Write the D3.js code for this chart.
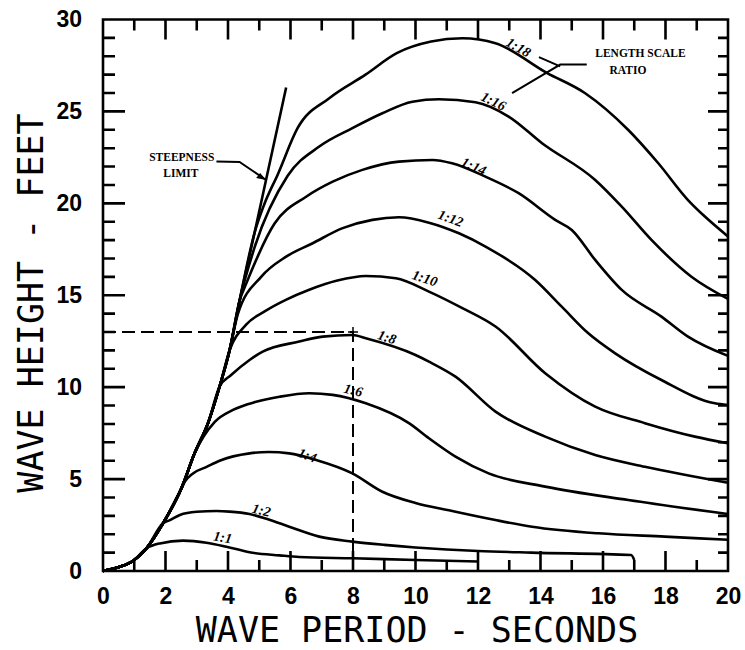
<!DOCTYPE html>
<html>
<head>
<meta charset="utf-8">
<script src="https://cdn.jsdelivr.net/npm/d3@7"></script>
<style>
  body { margin: 0; background: #fff; }
  svg { display: block; }
</style>
</head>
<body>
<div class="chart"></div>
<script>
(function(){

  // shared lower envelope / steepness limit line (period s, height ft)
  var limitT = [0, 0.54, 0.97, 1.39, 1.92, 2.51, 2.93, 3.36, 3.73, 4.05, 4.37, 4.85, 5.22, 5.86];
  var limitH = [0, 0.23, 0.56, 1.23, 2.59, 4.5, 6.4, 8.04, 10.03, 12.0, 14.7, 18.4, 21.3, 26.3];

  var ratios = ['1:1', '1:2', '1:4', '1:6', '1:8', '1:10', '1:12', '1:14', '1:16', '1:18'];

  // index of the limit point where each curve leaves the envelope
  var branchAt = [3, 4, 5, 6, 8, 9, 9, 10, 10, 11];

  var curveT = [
    [1.82, 2.56, 3.31, 3.95, 4.69, 5.65, 6.28, 8, 10, 12],
    [2.14, 2.46, 3.0, 3.63, 4.05, 4.69, 5.3, 5.96, 6.92, 7.98, 9, 10, 11, 12, 13.7, 16.9, 17.0],
    [2.62, 2.88, 3.3, 3.73, 4.69, 5.3, 5.96, 6.82, 7.98, 8.94, 10, 11.07, 12.56, 13.73, 15.85, 17.98, 20],
    [3.57, 4.16, 4.9, 5.65, 6.6, 7.35, 8.41, 9.79, 10.43, 11.28, 12.34, 14.15, 16.81, 20],
    [4.1, 4.69, 5.11, 6.28, 7.03, 7.98, 8.41, 10, 10.43, 11.28, 12.56, 14.15, 15.75, 17.34, 20],
    [4.58, 5.2, 5.85, 6.6, 7.5, 8.41, 9.37, 10.43, 11.5, 12.56, 14.15, 15.75, 17.34, 18.94, 20],
    [4.32, 5.06, 5.86, 6.71, 7.67, 8.62, 9.47, 10.43, 11.39, 12.24, 13.83, 14.68, 15.53, 16.39, 17.87, 19.58, 20],
    [4.6, 5.49, 6.5, 7.35, 8.3, 9.47, 10.54, 11.17, 12.24, 13.3, 14.47, 15.0, 15.75, 16.6, 17.87, 18.72, 20],
    [4.85, 5.91, 6.92, 7.98, 8.94, 9.9, 10.75, 11.92, 12.98, 14.05, 15.75, 16.6, 17.55, 18.83, 20],
    [5.15, 5.6, 6.23, 7.24, 8.4, 9.4, 10.5, 11.5, 12.56, 14.2, 15.43, 16.81, 17.77, 18.72, 19.26, 20]
  ];
  var curveH = [
    [1.5, 1.65, 1.54, 1.32, 1.02, 0.85, 0.76, 0.69, 0.6, 0.52],
    [2.77, 3.05, 3.22, 3.26, 3.23, 3.1, 2.8, 2.41, 1.87, 1.6, 1.42, 1.28, 1.17, 1.09, 1.0, 0.87, 0.6],
    [4.86, 5.31, 5.65, 6.0, 6.4, 6.47, 6.4, 6.04, 5.31, 4.31, 3.7, 3.3, 2.77, 2.41, 2.05, 1.87, 1.7],
    [8.1, 8.76, 9.2, 9.48, 9.67, 9.58, 9.12, 8.04, 7.22, 6.22, 5.31, 4.59, 3.86, 3.1],
    [10.66, 11.48, 11.93, 12.48, 12.75, 12.84, 12.66, 11.75, 11.39, 10.57, 8.67, 7.31, 6.31, 5.67, 4.8],
    [13.4, 14.15, 14.75, 15.3, 15.8, 16.05, 15.92, 15.2, 14.3, 13.3, 10.76, 8.94, 8.04, 7.31, 6.95],
    [14.0, 16.0, 17.1, 17.83, 18.65, 19.1, 19.24, 18.95, 18.37, 17.65, 15.83, 14.38, 12.93, 11.84, 10.39, 9.12, 9.03],
    [15.7, 18.9, 20.36, 21.18, 21.82, 22.27, 22.36, 22.18, 21.45, 20.55, 19.1, 18.55, 16.92, 15.29, 13.84, 12.75, 11.7],
    [17.6, 21.5, 23.09, 24.09, 24.9, 25.53, 25.66, 25.5, 24.72, 23.27, 21.27, 19.82, 18.01, 16.01, 14.8],
    [19.9, 21.6, 24.1, 25.72, 27.0, 28.17, 28.8, 28.98, 28.71, 27.1, 25.99, 23.99, 22.18, 20.18, 19.28, 18.2]
  ];

  // where each ratio label sits, and its tilt in degrees
  var labelT = [3.83, 5.07, 6.54, 8.01, 9.09, 10.3, 11.13, 11.87, 12.5, 13.3];
  var labelH = [1.85, 3.32, 6.31, 9.85, 12.73, 15.94, 19.2, 22.03, 25.57, 28.5];
  var labelAngle = [10, 14, 20, 14, 18, 18, 20, 24, 26, 30];

  // example reading: 8 s period, 13 ft wave
  var readT = [0, 8, 8];
  var readH = [13, 13, 0];

  var xTicks = d3.range(0, 21, 2);
  var yTicks = d3.range(0, 31, 5);
  var xMarks = d3.range(1, 20);
  var yMarks = d3.range(1, 30);

  var width = 745, height = 650;
  var svg = d3.select('.chart').append('svg')
    .attr('width', width)
    .attr('height', height);

  var x = d3.scaleLinear().domain([0, 20]).range([103, 728]);
  var y = d3.scaleLinear().domain([0, 30]).range([571, 19.5]);

  var line = d3.line()
    .x(function(d){ return x(d[0]); })
    .y(function(d){ return y(d[1]); })
    .curve(d3.curveMonotoneX);

  var straight = d3.line()
    .x(function(d){ return x(d[0]); })
    .y(function(d){ return y(d[1]); });

  var limitPts = limitT.map(function(t, i){ return [t, limitH[i]]; });

  var series = ratios.map(function(r, i){
    var pts = limitPts.slice(0, branchAt[i] + 1);
    curveT[i].forEach(function(t, j){ pts.push([t, curveH[i][j]]); });
    return pts;
  });

  // frame with inward marks, one path
  var lenX = function(v){ return v % 2 === 0 ? 20 : 11; };
  var lenY = function(v){ return v % 5 === 0 ? 22 : 12; };
  var framePts = [[0, 0], [20, 0], [20, 30], [0, 30], [0, 0]];
  var frameD = straight(framePts) + 'Z';
  xMarks.forEach(function(v){
    frameD += 'M' + x(v) + ',' + y(0) + 'L' + x(v) + ',' + (y(0) - lenX(v));
    frameD += 'M' + x(v) + ',' + y(30) + 'L' + x(v) + ',' + (y(30) + lenX(v));
  });
  yMarks.forEach(function(v){
    frameD += 'M' + x(0) + ',' + y(v) + 'L' + (x(0) + lenY(v)) + ',' + y(v);
    frameD += 'M' + x(20) + ',' + y(v) + 'L' + (x(20) - lenY(v) + 2) + ',' + y(v);
  });

  svg.append('path')
    .attr('d', frameD)
    .attr('fill', 'none')
    .attr('stroke', '#000')
    .attr('stroke-width', 2.6);

  // dashed example reading
  svg.append('path')
    .attr('d', straight(readT.map(function(t, i){ return [t, readH[i]]; })))
    .attr('fill', 'none')
    .attr('stroke', '#000')
    .attr('stroke-width', 2)
    .attr('stroke-dasharray', '13,6');

  svg.append('path')
    .attr('d', 'M' + (x(8) - 5) + ',' + y(13) + 'h10M' + x(8) + ',' + (y(13) - 5) + 'v10')
    .attr('stroke', '#000')
    .attr('stroke-width', 1.5);

  // curves
  svg.selectAll('path.ratio')
    .data(series)
    .enter().append('path')
    .attr('class', 'ratio')
    .attr('d', line)
    .attr('fill', 'none')
    .attr('stroke', '#000')
    .attr('stroke-width', 2.6)
    .attr('stroke-linejoin', 'round');

  svg.append('path')
    .attr('d', line(limitPts))
    .attr('fill', 'none')
    .attr('stroke', '#000')
    .attr('stroke-width', 2.6);

  svg.selectAll('text.ratio')
    .data(ratios)
    .enter().append('text')
    .attr('class', 'ratio')
    .attr('transform', function(d, i){
      return 'translate(' + x(labelT[i]) + ',' + y(labelH[i]) + ') rotate(' + labelAngle[i] + ')';
    })
    .attr('text-anchor', 'middle')
    .attr('dy', '0.35em')
    .attr('font-family', 'Liberation Serif')
    .attr('font-weight', 'bold')
    .attr('font-style', 'italic')
    .attr('font-size', 14)
    .text(function(d){ return d; });

  // annotations
  var note = function(t, h, str){
    svg.append('text')
      .attr('x', x(t))
      .attr('y', y(h))
      .attr('dy', '0.35em')
      .attr('text-anchor', 'middle')
      .attr('font-family', 'Liberation Serif')
      .attr('font-weight', 'bold')
      .attr('font-size', 11.5)
      .text(str);
  };
  note(2.52, 22.5, 'STEEPNESS');
  note(2.49, 21.65, 'LIMIT');
  note(17.2, 28.2, 'LENGTH SCALE');
  note(16.8, 27.25, 'RATIO');

  svg.append('path')
    .attr('d', straight([[3.63, 22.27], [4.37, 22.25], [5.22, 21.27]]))
    .attr('fill', 'none')
    .attr('stroke', '#000')
    .attr('stroke-width', 2);

  var tipX = x(5.22), tipY = y(21.27);
  svg.append('path')
    .attr('d', 'M' + tipX + ',' + tipY + 'l-10,-2l4,-5z')
    .attr('fill', '#000');

  svg.append('path')
    .attr('d', straight([[13.95, 27.95], [14.63, 27.45]]) + straight([[13.09, 26.0], [14.63, 27.55], [15.48, 27.55]]))
    .attr('fill', 'none')
    .attr('stroke', '#000')
    .attr('stroke-width', 2);

  // tick labels
  var xl = svg.append('g')
    .attr('transform', 'translate(0,' + y(0) + ')')
    .call(d3.axisBottom(x).tickValues(xTicks).tickSize(0).tickPadding(17));
  var yl = svg.append('g')
    .attr('transform', 'translate(' + x(0) + ',0)')
    .call(d3.axisLeft(y).tickValues(yTicks).tickSize(0).tickPadding(21));
  [xl, yl].forEach(function(g){
    g.select('.domain').remove();
    g.selectAll('text')
      .attr('font-family', 'Liberation Sans')
      .attr('font-weight', 'bold')
      .attr('font-size', 23)
      .attr('fill', '#000');
  });

  // axis titles
  svg.append('text')
    .attr('x', 417)
    .attr('y', 642)
    .attr('text-anchor', 'middle')
    .attr('font-family', 'DejaVu Sans Mono')
    .attr('font-size', 35)
    .text('WAVE PERIOD - SECONDS');

  svg.append('text')
    .attr('transform', 'translate(43,303) rotate(-90)')
    .attr('text-anchor', 'middle')
    .attr('font-family', 'DejaVu Sans Mono')
    .attr('font-size', 35)
    .text('WAVE HEIGHT - FEET');

}());
</script>
</body>
</html>
